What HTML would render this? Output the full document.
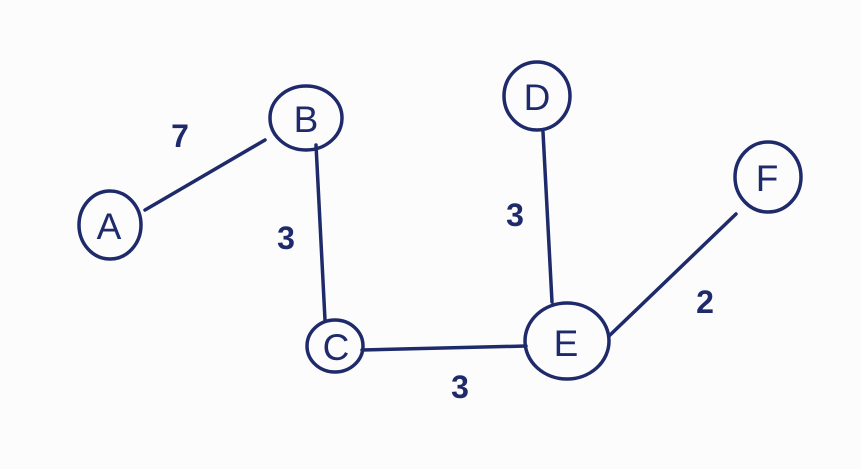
<!DOCTYPE html>
<html><head><meta charset="utf-8"><style>
html,body{margin:0;padding:0;background:#fdfdfd;}
svg{display:block;}
text{font-family:"Liberation Sans",sans-serif;fill:#1f2a6b;}
</style></head><body>
<svg width="861" height="469" viewBox="0 0 861 469" xmlns="http://www.w3.org/2000/svg">
<rect width="861" height="469" fill="#fcfcfc"/>
<g stroke="#1f2a6b" stroke-width="3.5" fill="none" stroke-linecap="round">
<ellipse cx="110" cy="225" rx="31" ry="34"/>
<ellipse cx="306" cy="118" rx="36" ry="32"/>
<ellipse cx="335" cy="346" rx="28" ry="26"/>
<ellipse cx="537" cy="96" rx="33" ry="34"/>
<ellipse cx="567" cy="341" rx="42" ry="38"/>
<ellipse cx="768" cy="177" rx="33" ry="35"/>
<line x1="145" y1="210" x2="265" y2="140"/>
<line x1="316" y1="145" x2="325" y2="320"/>
<line x1="362" y1="350" x2="526" y2="346"/>
<line x1="543" y1="132" x2="552" y2="302"/>
<line x1="609" y1="336" x2="736" y2="214"/>
</g>
<g font-size="37" text-anchor="middle">
<text x="109" y="239">A</text>
<text x="306" y="132">B</text>
<text x="336" y="360">C</text>
<text x="537" y="110">D</text>
<text x="566" y="356">E</text>
<text x="767" y="191">F</text>
</g>
<g font-size="32" text-anchor="middle" font-weight="bold">
<text x="180" y="147">7</text>
<text x="286" y="249">3</text>
<text x="515" y="226">3</text>
<text x="460" y="398">3</text>
<text x="705" y="313">2</text>
</g>
</svg>
</body></html>
